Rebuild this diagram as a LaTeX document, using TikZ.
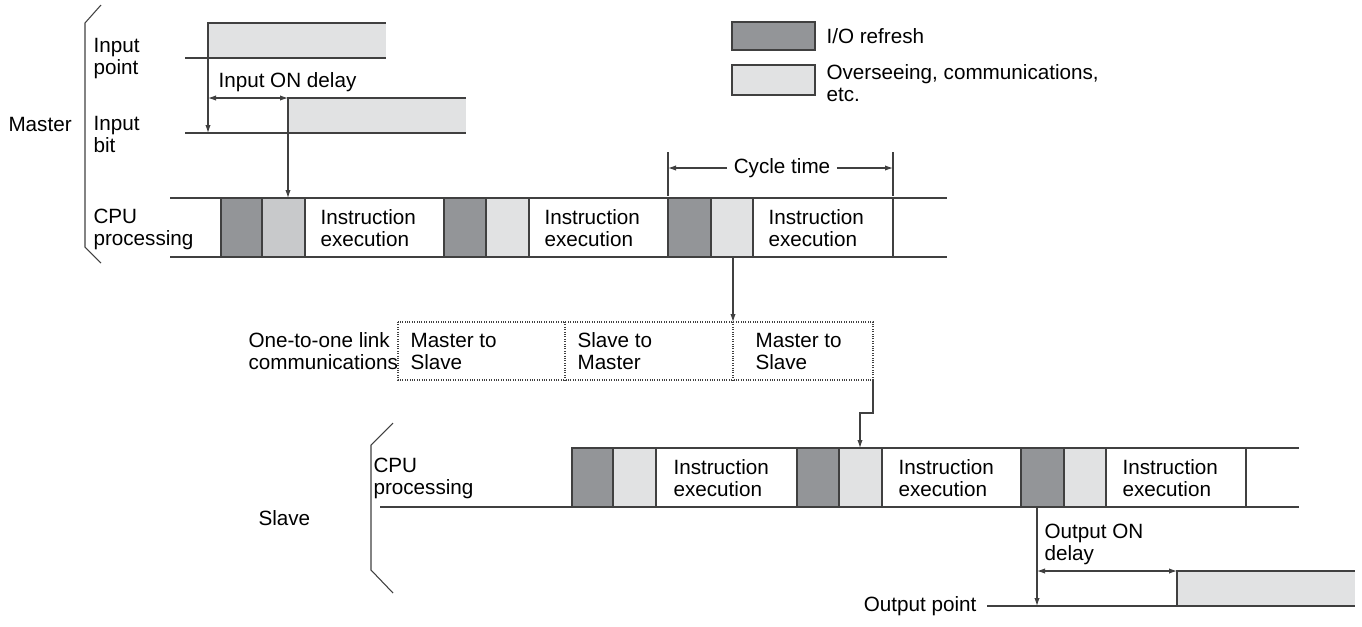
\documentclass[tikz,border=0pt]{standalone}
\usepackage{fontspec}
\setmainfont{Liberation Sans}
\begin{document}
\begin{tikzpicture}[x=0.75pt,y=-0.75pt,line width=0.8pt,
  dk/.style={fill=darkg,draw=black!75},
  lt/.style={fill=lightg,draw=black!75},
  txt/.style={font=\fontsize{15.5}{16.5}\selectfont,align=left,inner sep=0pt},
  arr/.style={-{Latex[length=6pt,width=4pt]}},
  ln/.style={draw=black!75}]
\usetikzlibrary{arrows.meta}
\definecolor{darkg}{HTML}{939598}
\definecolor{lightg}{HTML}{E1E2E3}
\definecolor{midg}{HTML}{C8C9CB}
\useasboundingbox (0,0) rectangle (1362,626);
% braces
\draw[ln] (101,5) -- (85,23) -- (85,247) -- (101,263);
\draw[ln] (393,423) -- (371,445) -- (371,570) -- (393,593);
\node[txt,anchor=west] (master) at (8,124) {Master};
\node[txt,anchor=west] (ip) at (93,59) {Input\\point};
\node[txt,anchor=west] (ib) at (93,134) {Input\\bit};
\node[txt,anchor=west] (cpu) at (93,229) {CPU\\processing};
% input point
\fill[lightg] (208,23) rectangle (386,58);
\draw[ln] (185,58) -- (208,58) |- (386,23);
\draw[ln] (208,58) -- (386,58);
\coordinate (ipr) at (208,58);
\coordinate (ibd) at (208,133);
\draw[ln,arr] (ipr) -- (ibd);
% input bit
\fill[lightg] (288,98) rectangle (466,133);
\draw[ln] (185,133) -- (466,133);
\draw[ln] (288,133) |- (466,98);
\coordinate (da) at (208,98); \coordinate (db) at (288,98);
\draw[ln,{Latex[length=6pt,width=4pt]}-{Latex[length=6pt,width=4pt]}] (da) -- (db);
\node[txt,anchor=south west] (iod) at (218,92) {Input ON delay};
% master CPU
\draw[ln] (170,198) -- (947,198); \draw[ln] (170,257) -- (947,257);
\path[dk] (221,198) rectangle (262,257);
\path[draw=black!75,fill=midg] (262,198) rectangle (305,257);
\path[draw=black!75] (305,198) rectangle (444,257);
\path[dk] (444,198) rectangle (486,257);
\path[lt] (486,198) rectangle (529,257);
\path[draw=black!75] (529,198) rectangle (668,257);
\path[dk] (668,198) rectangle (711,257);
\path[lt] (711,198) rectangle (753,257);
\path[draw=black!75] (753,198) rectangle (893,257);
\node[txt,anchor=west] (ie1) at (320,228) {Instruction\\execution};
\node[txt,anchor=west] (ie2) at (544,228) {Instruction\\execution};
\node[txt,anchor=west] (ie3) at (768,228) {Instruction\\execution};
\coordinate (mcpu) at (288,198);
\draw[ln,arr] (db) -- (mcpu);
% cycle time
\draw[ln] (668,152) -- (668,196); \draw[ln] (893,152) -- (893,196);
\node[txt] (ct) at (782,168) {Cycle time};
\coordinate (c1) at (668,168); \coordinate (c2) at (893,168);
\draw[ln,arr] (ct.west)++(-6,0) -- (c1);
\draw[ln,arr] (ct.east)++(6,0) -- (c2);
% comm
\node[txt,anchor=west] (olc) at (248,351) {One-to-one link\\communications};
\draw[ln,densely dotted] (398,322) rectangle (873,380);
\draw[ln,densely dotted] (565,322) -- (565,380);
\draw[ln,densely dotted] (733,322) -- (733,380);
\node[txt,anchor=west] (ms1) at (410,351) {Master to\\Slave};
\node[txt,anchor=west] (sm) at (577,351) {Slave to\\Master};
\node[txt,anchor=west] (ms2) at (755,351) {Master to\\Slave};
\coordinate (mc3) at (733,257); \coordinate (cb) at (733,322);
\draw[ln,arr] (mc3) -- (cb);
\coordinate (cbr) at (873,380); \coordinate (scp) at (860,448);
\draw[ln,arr] (cbr) -- (873,413) -- (860,413) -- (scp);
% slave
\node[txt,anchor=west] (slave) at (258,518) {Slave};
\node[txt,anchor=west] (scpu) at (373,478) {CPU\\processing};
\draw[ln] (572,448) -- (1299,448); \draw[ln] (380,507) -- (1299,507);
\path[dk] (572,448) rectangle (613,507);
\path[lt] (613,448) rectangle (656,507);
\path[draw=black!75] (656,448) rectangle (797,507);
\path[dk] (797,448) rectangle (839,507);
\path[lt] (839,448) rectangle (882,507);
\path[draw=black!75] (882,448) rectangle (1021,507);
\path[dk] (1021,448) rectangle (1064,507);
\path[lt] (1064,448) rectangle (1106,507);
\path[draw=black!75] (1106,448) rectangle (1246,507);
\node[txt,anchor=west] (se1) at (673,478) {Instruction\\execution};
\node[txt,anchor=west] (se2) at (898,478) {Instruction\\execution};
\node[txt,anchor=west] (se3) at (1122,478) {Instruction\\execution};
% output
\fill[lightg] (1177,571) rectangle (1355,606);
\draw[ln] (987,606) -- (1355,606);
\draw[ln] (1177,606) |- (1355,571);
\coordinate (od) at (1037,507); \coordinate (op) at (1037,606);
\draw[ln,arr] (od) -- (op);
\coordinate (oa) at (1037,571); \coordinate (ob) at (1177,571);
\draw[ln,{Latex[length=6pt,width=4pt]}-{Latex[length=6pt,width=4pt]}] (oa) -- (ob);
\node[txt,anchor=west] (ood) at (1044,544) {Output ON\\delay};
\node[txt,anchor=east] (opl) at (977,606) {Output point};
% legend
\path[dk] (732,22) rectangle (815,50);
\path[lt] (732,65) rectangle (815,95);
\node[txt,anchor=west] (l1) at (826,36) {I/O refresh};
\node[txt,anchor=west] (l2) at (826,83) {Overseeing, communications,\\etc.};
\end{tikzpicture}
\end{document}
